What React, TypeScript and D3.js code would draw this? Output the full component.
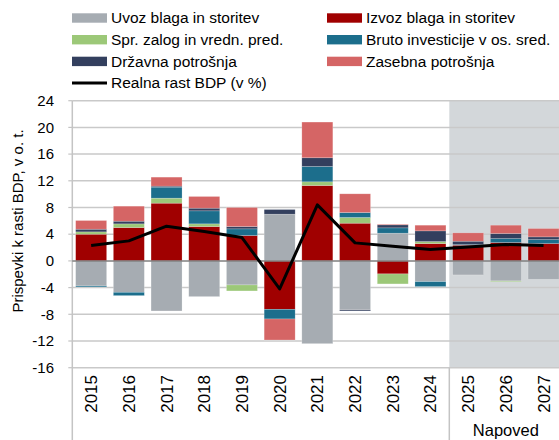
import React from 'react';
import * as d3 from 'd3';

const years = ['2015','2016','2017','2018','2019','2020','2021','2022','2023','2024','2025','2026','2027'];
const uvoz = [-3.75, -4.7, -7.5, -5.35, -3.6, 7.0, -12.4, -7.35, 4.15, -3.1, -2.1, -3.0, -2.75];
const izvoz = [4.0, 5.0, 8.65, 5.15, 3.8, -7.25, 11.3, 5.65, -1.95, 2.6, 2.35, 2.75, 2.6];
const zalog = [0.35, 0.55, 0.75, 0.4, -0.9, 0, 0.55, 0.85, -1.5, 0.3, 0, -0.1, 0];
const bruto = [-0.15, -0.5, 1.65, 1.95, 1.0, -1.45, 2.3, 0.75, 0.8, -0.75, 0.1, 0.6, 0.6];
const drzavna = [0.4, 0.4, 0.15, 0.4, 0.35, 0.7, 1.3, -0.15, 0.45, 1.6, 0.5, 0.75, 0.4];
const zasebna = [1.3, 2.25, 1.35, 1.75, 2.85, -3.15, 5.35, 2.8, 0.1, 0.85, 1.25, 1.25, 1.25];
const gdp = [2.3, 3.0, 5.2, 4.4, 3.5, -4.2, 8.4, 2.7, 2.2, 1.7, 2.1, 2.45, 2.3];
const yTicks = [24, 20, 16, 12, 8, 4, 0, -4, -8, -12, -16];
const forecastYears = ['2025', '2026', '2027'];

const seriesNames = ['Uvoz blaga in storitev', 'Izvoz blaga in storitev', 'Spr. zalog in vredn. pred.', 'Bruto investicije v os. sred.', 'Državna potrošnja', 'Zasebna potrošnja'];
const seriesKeys = ['uvoz', 'izvoz', 'zalog', 'bruto', 'drzavna', 'zasebna'];
const colors = ['#A6ACB2', '#A00000', '#9CC878', '#1C6E8C', '#333F5E', '#D56565'];
const lineName = 'Realna rast BDP (v %)';

const FONT = '"Liberation Sans", Arial, sans-serif';

export default function App() {
  const W = 559, H = 440;
  const x = d3.scaleBand<string>().domain(years).range([72.3, 562.4]).paddingInner(0.178).paddingOuter(0.089);
  const y = d3.scaleLinear().domain([-16, 24]).range([367.7, 100.7]);

  const table = years.map((yr, i) => ({
    year: yr, uvoz: uvoz[i], izvoz: izvoz[i], zalog: zalog[i], bruto: bruto[i], drzavna: drzavna[i], zasebna: zasebna[i],
  }));
  const stack = d3.stack<any>().keys(seriesKeys).offset(d3.stackOffsetDiverging);
  const layers = stack(table);

  const line = d3.line<number>()
    .x((_, i) => (x(years[i]) as number) + x.bandwidth() / 2)
    .y((d) => y(d));

  const plotLeft = 72.3;
  const plotRight = 562.4;
  const fx0 = x(forecastYears[0])! - x.step() * x.paddingInner() / 2;

  const legendRows = [
    [0, 1],
    [2, 3],
    [4, 5],
  ];

  return (
    <svg width={W} height={H} style={{ position: 'absolute', left: 0, top: 0, fontFamily: FONT }}>
      <rect x={0} y={0} width={W} height={H} fill="#fff" />
      {/* forecast shading */}
      <rect x={fx0} y={y(24)} width={plotRight - fx0} height={y(-16) - y(24)} fill="#D3D7DA" />
      {/* gridlines */}
      {yTicks.filter((t) => t !== 0).map((t) => (
        <line key={'g' + t} x1={plotLeft} x2={plotRight} y1={y(t)} y2={y(t)} stroke="#C9C9C9" strokeWidth={1.5} />
      ))}
      {/* y axis line and ticks */}
      <line x1={plotLeft} x2={plotLeft} y1={y(24)} y2={H} stroke="#C4C4C4" strokeWidth={1.5} />
      {yTicks.map((t) => (
        <line key={'tk' + t} x1={plotLeft - 4} x2={plotLeft} y1={y(t)} y2={y(t)} stroke="#C4C4C4" strokeWidth={1.2} />
      ))}
      {/* category group separator */}
      <line x1={fx0} x2={fx0} y1={y(-16)} y2={H} stroke="#C4C4C4" strokeWidth={1.5} />
      {/* bars */}
      {layers.map((layer, li) => (
        <g key={layer.key} fill={colors[li]}>
          {layer.map((d, i) => {
            const y0 = y(d[0]);
            const y1 = y(d[1]);
            const h = Math.abs(y0 - y1);
            if (h < 0.01) return null;
            return <rect key={i} x={x(years[i])} y={Math.min(y0, y1)} width={x.bandwidth()} height={h} stroke="#ffffff" strokeOpacity={0.35} strokeWidth={0.6} />;
          })}
        </g>
      ))}
      {/* zero line */}
      <line x1={plotLeft} x2={plotRight} y1={y(0)} y2={y(0)} stroke="#7F7F7F" strokeWidth={1.5} />
      {/* GDP line */}
      <path d={line(gdp) || ''} fill="none" stroke="#000" strokeWidth={3} strokeLinejoin="round" />
      {/* y tick labels */}
      {yTicks.map((t) => (
        <text key={'tl' + t} x={54} y={y(t)} dy="0.35em" textAnchor="end" fontSize={15} fill="#000">{String(t)}</text>
      ))}
      {/* y title */}
      <text transform={`translate(23,221) rotate(-90)`} textAnchor="middle" fontSize={15} fill="#000">Prispevki k rasti BDP, v o. t.</text>
      {/* x labels */}
      {years.map((yr) => (
        <text key={'xl' + yr} transform={`translate(${(x(yr) as number) + x.bandwidth() / 2},375) rotate(-90)`} textAnchor="end" dy="0.35em" fontSize={17} fill="#000">{yr}</text>
      ))}
      <text x={(fx0 + plotRight) / 2} y={436} textAnchor="middle" fontSize={16.5} fill="#000">Napoved</text>
      {/* legend */}
      {legendRows.map((row, ri) =>
        row.map((si, ci) => {
          const lx = ci === 0 ? 72 : 327;
          const cy = 18 + ri * 21.7;
          return (
            <g key={'lg' + si}>
              <rect x={lx} y={cy - 4.7} width={35} height={9.4} fill={colors[si]} />
              <text x={lx + 39} y={cy} dy="0.35em" fontSize={15.5} fill="#000">{seriesNames[si]}</text>
            </g>
          );
        })
      )}
      <line x1={72} x2={107} y1={83} y2={83} stroke="#000" strokeWidth={3} />
      <text x={111} y={83} dy="0.35em" fontSize={15.5} fill="#000">{lineName}</text>
    </svg>
  );
}
